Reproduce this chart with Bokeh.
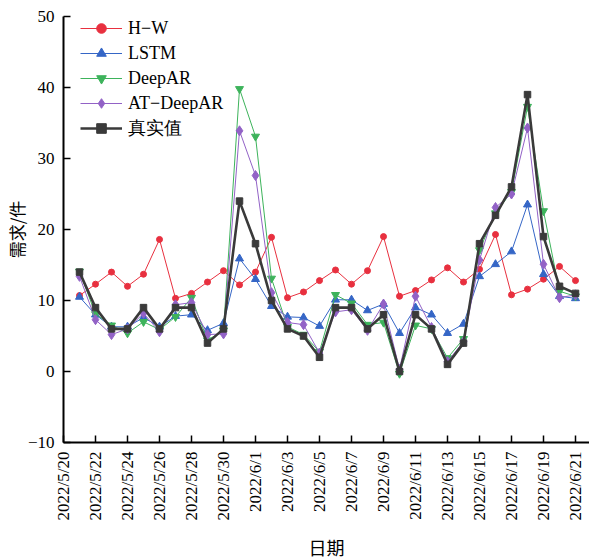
from bokeh.plotting import figure
from bokeh.models import Legend, LegendItem, FixedTicker, Range1d
from bokeh.embed import file_html
from bokeh.resources import INLINE
import pandas as pd

dates = ["2022/5/21", "2022/5/22", "2022/5/23", "2022/5/24", "2022/5/25", "2022/5/26",
         "2022/5/27", "2022/5/28", "2022/5/29", "2022/5/30", "2022/5/31", "2022/6/1",
         "2022/6/2", "2022/6/3", "2022/6/4", "2022/6/5", "2022/6/6", "2022/6/7",
         "2022/6/8", "2022/6/9", "2022/6/10", "2022/6/11", "2022/6/12", "2022/6/13",
         "2022/6/14", "2022/6/15", "2022/6/16", "2022/6/17", "2022/6/18", "2022/6/19",
         "2022/6/20", "2022/6/21"]

hw = [10.7, 12.3, 14.0, 12.0, 13.7, 18.6, 10.3, 11.0, 12.6, 14.2, 12.2, 14.0,
      18.9, 10.4, 11.2, 12.8, 14.3, 12.3, 14.2, 19.0, 10.6, 11.4, 12.9, 14.6,
      12.6, 14.4, 19.3, 10.8, 11.6, 13.0, 14.8, 12.8]
lstm = [10.5, 8.0, 6.3, 6.3, 7.6, 6.3, 7.8, 8.0, 5.8, 6.8, 15.9, 13.0,
        9.2, 7.7, 7.6, 6.4, 10.1, 10.1, 8.6, 9.5, 5.4, 9.0, 8.0, 5.4,
        6.7, 13.4, 15.1, 16.9, 23.5, 13.7, 10.6, 10.3]
deepar = [14.1, 8.1, 6.5, 5.4, 7.0, 5.9, 7.7, 10.4, 4.4, 5.8, 39.8, 33.1,
          13.1, 6.3, 5.2, 2.8, 10.8, 9.6, 6.6, 6.9, -0.3, 6.5, 6.0, 1.9,
          4.6, 17.1, 22.3, 25.3, 37.3, 22.6, 11.3, 10.6]
atdeepar = [13.4, 7.3, 5.2, 6.0, 8.2, 5.6, 9.4, 9.7, 5.2, 5.3, 33.9, 27.6,
            11.1, 6.9, 6.6, 2.6, 8.4, 8.7, 5.8, 9.5, 0.3, 10.6, 6.2, 1.4,
            4.2, 15.7, 23.1, 25.0, 34.3, 15.1, 10.4, 10.8]
actual = [14, 9, 6, 6, 9, 6, 9, 9, 4, 6, 24, 18,
          10, 6, 5, 2, 9, 9, 6, 8, 0, 8, 6, 1,
          4, 18, 22, 26, 39, 19, 12, 11]

tick_labels = ["2022/5/20", "2022/5/22", "2022/5/24", "2022/5/26", "2022/5/28",
               "2022/5/30", "2022/6/1", "2022/6/3", "2022/6/5", "2022/6/7",
               "2022/6/9", "2022/6/11", "2022/6/13", "2022/6/15", "2022/6/17",
               "2022/6/19", "2022/6/21"]
y_ticks = [-10, 0, 10, 20, 30, 40, 50]

origin = pd.Timestamp("2022-05-20")
x = [(pd.Timestamp(d.replace("/", "-")) - origin).days for d in dates]
xt = [(pd.Timestamp(d.replace("/", "-")) - origin).days for d in tick_labels]

SERIF = "Liberation Serif"
CJK = "Noto Sans CJK SC"

FW, FH = 526, 426
p = figure(frame_width=FW, frame_height=FH, output_backend="svg", toolbar_location=None,
           min_border_left=57, min_border_right=0, min_border_top=16, min_border_bottom=90)
p.x_range = Range1d(0, FW / 16.0)
p.y_range = Range1d(-10, 50)
p.xgrid.visible = False
p.ygrid.visible = False
p.outline_line_color = None
p.background_fill_color = "white"
p.border_fill_color = "white"

for ax in (p.xaxis[0], p.yaxis[0]):
    ax.axis_line_width = 2
    ax.axis_line_color = "black"
    ax.major_tick_line_color = "black"
    ax.major_tick_line_width = 1.5
    ax.major_tick_in = 7
    ax.major_tick_out = 0
    ax.minor_tick_line_color = None
    ax.major_label_text_font = SERIF
    ax.major_label_text_font_size = "17px"
    ax.major_label_text_color = "black"
    ax.axis_label_text_font = CJK
    ax.axis_label_text_font_style = "normal"
    ax.axis_label_text_font_size = "17px"
    ax.axis_label_text_color = "black"

p.xaxis.ticker = FixedTicker(ticks=xt)
p.xaxis.major_label_overrides = {t: l for t, l in zip(xt, tick_labels)}
p.xaxis.major_label_orientation = 1.5707963
p.xaxis.major_label_text_font_size = "17px"
p.xaxis.major_label_standoff = 9
p.xaxis.axis_label = "日期"
p.xaxis.axis_label_text_font_size = "18px"
p.xaxis.axis_label_standoff = 11

p.yaxis.ticker = FixedTicker(ticks=y_ticks)
p.yaxis.major_label_overrides = {v: (("−" + str(-v)) if v < 0 else str(v)) for v in y_ticks}
p.yaxis.major_label_standoff = 9
p.yaxis.axis_label = "需求/件"
p.yaxis.axis_label_standoff = -4

series = [
    ("H−W", hw, "#e8303f", 1.0, "circle", 6),
    ("LSTM", lstm, "#3566c6", 1.0, "triangle", 8),
    ("DeepAR", deepar, "#3db35b", 1.0, "inverted_triangle", 8),
    ("AT−DeepAR", atdeepar, "#9262c6", 1.0, "diamond", 10),
    ("真实值", actual, "#3a3a3a", 2.6, "square", 6.5),
]

items = []
for label, ys, color, lw, marker, size in series:
    lr = p.line(x, ys, line_color=color, line_width=lw)
    sr = p.scatter(x, ys, marker=marker, size=size, fill_color=color, line_color=color)
    items.append(LegendItem(label=label, renderers=[lr, sr]))

legend = Legend(items=items, location=(17, 302))
legend.border_line_color = None
legend.background_fill_alpha = 0
legend.padding = 0
legend.margin = 0
legend.spacing = 1
legend.glyph_width = 42
legend.glyph_height = 24
legend.label_height = 24
legend.label_standoff = 6
legend.label_text_font = SERIF
legend.label_text_font_size = "18px"
legend.label_text_color = "black"
p.add_layout(legend)

open("out.html", "w").write(file_html(p, INLINE))
